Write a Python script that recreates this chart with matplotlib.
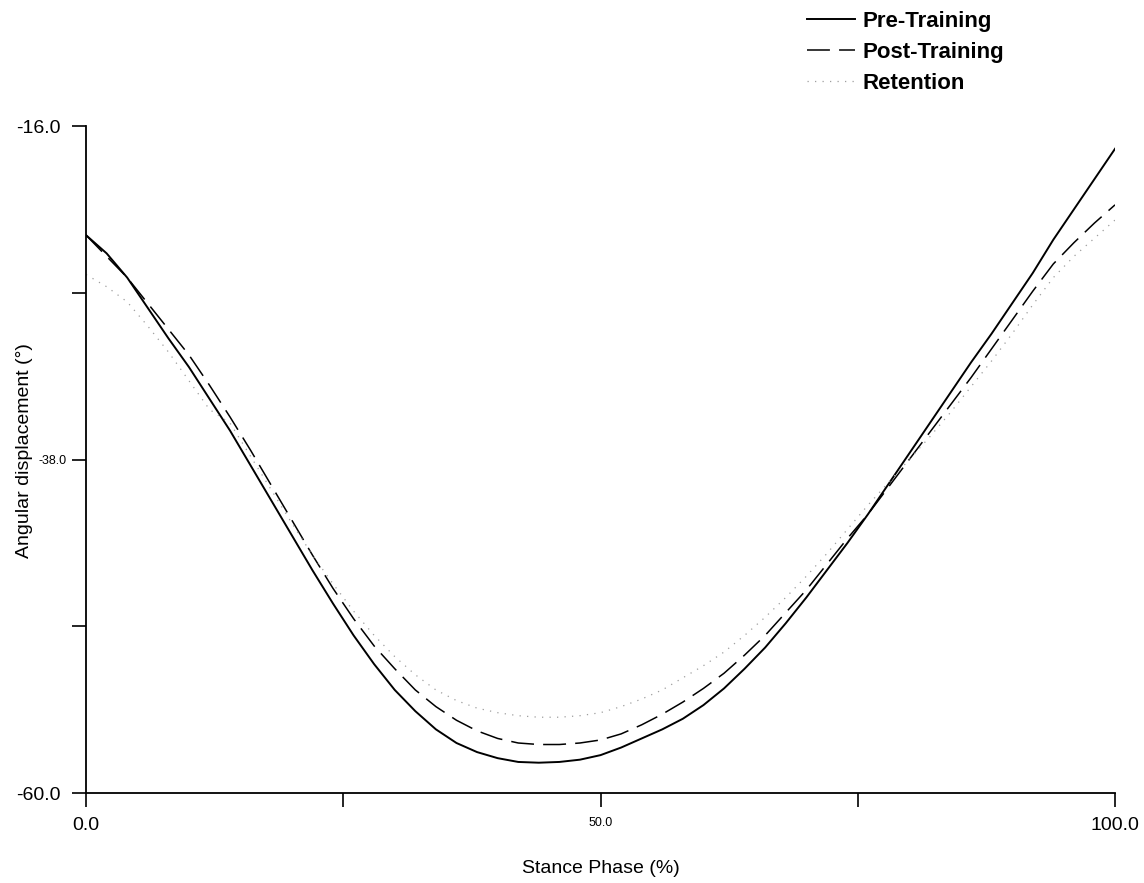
import numpy as np
import matplotlib
matplotlib.use("Agg")
from matplotlib import pyplot as plt
from matplotlib.transforms import offset_copy

plt.rcParams["font.family"] = ["Liberation Sans", "DejaVu Sans"]

# values (stance phase %, angle in degrees)
stance = [0, 2, 4, 6, 8, 10, 12, 14, 16, 18, 20, 22, 24, 26, 28, 30, 32, 34, 36, 38, 40, 42, 44, 46, 48,
          50, 52, 54, 56, 58, 60, 62, 64, 66, 68, 70, 72, 74, 76, 78, 80, 82, 84, 86, 88, 90, 92, 94, 96, 98, 100]

pre = [-23.2, -24.4, -26.0, -28.0, -30.0, -31.9, -34.0, -36.1, -38.4, -40.7, -43.0, -45.3, -47.5, -49.6, -51.5,
       -53.2, -54.6, -55.8, -56.7, -57.3, -57.7, -57.95, -58.0, -57.95, -57.8, -57.5, -57.0, -56.4, -55.8, -55.1,
       -54.2, -53.1, -51.8, -50.4, -48.8, -47.1, -45.3, -43.5, -41.6, -39.6, -37.6, -35.6, -33.6, -31.6, -29.7,
       -27.7, -25.7, -23.5, -21.5, -19.5, -17.5]

post = [-23.2, -24.6, -26.0, -27.7, -29.4, -31.1, -33.1, -35.2, -37.4, -39.7, -42.0, -44.3, -46.5, -48.5, -50.3,
        -51.8, -53.2, -54.3, -55.2, -55.9, -56.4, -56.7, -56.8, -56.8, -56.7, -56.5, -56.1, -55.5, -54.8, -54.0,
        -53.1, -52.1, -50.9, -49.6, -48.1, -46.6, -44.9, -43.2, -41.6, -39.8, -38.0, -36.2, -34.4, -32.6, -30.7,
        -28.8, -26.9, -25.1, -23.7, -22.4, -21.2]

retention = [-25.8, -26.6, -27.6, -29.2, -30.9, -32.8, -34.7, -35.6, -37.8, -40.0, -42.2, -44.3, -46.2, -48.0, -49.6,
             -51.0, -52.2, -53.2, -53.9, -54.4, -54.7, -54.9, -55.0, -55.0, -54.9, -54.7, -54.3, -53.8, -53.2, -52.4,
             -51.6, -50.7, -49.6, -48.4, -47.1, -45.7, -44.2, -42.6, -41.0, -39.5, -38.0, -36.5, -34.9, -33.2, -31.5,
             -29.7, -27.8, -26.0, -24.6, -23.4, -22.2]

y_ticks = [-16.0, -27.0, -38.0, -49.0, -60.0]
y_labels = ["-16.0", "", "-38.0", "", "-60.0"]
x_ticks = [0.0, 25.0, 50.0, 75.0, 100.0]
x_labels = ["0.0", "", "50.0", "", "100.0"]

fig = plt.figure(figsize=(11.44, 8.83), dpi=100)
ax = fig.add_axes([0.0752, 0.1019, 0.8995, 0.7554])

ax.plot(stance, pre, "-", color="black", lw=1.4, label="Pre-Training")
ax.plot(stance, post, color="black", lw=1.1, dashes=(15, 6), label="Post-Training")
ax.plot(stance, retention, color="0.62", lw=0.9, dashes=(1, 5), label="Retention")

ax.set_xlim(0, 100)
ax.set_ylim(-60, -16)
ax.spines["top"].set_visible(False)
ax.spines["right"].set_visible(False)
ax.spines["left"].set_linewidth(1.3)
ax.spines["bottom"].set_linewidth(1.3)

ax.set_yticks(y_ticks)
ax.set_yticklabels(y_labels, fontsize=14)
ax.set_xticks(x_ticks)
ax.set_xticklabels(x_labels, fontsize=14)
ax.tick_params(axis="y", length=10, width=1.2, pad=8)
ax.tick_params(axis="x", length=10, width=1.2, pad=7)

# the middle labels are printed much smaller (and closer to the axis) in the original
mid_y = ax.get_yticklabels()[2]
mid_y.set_fontsize(9)
mid_y.set_transform(offset_copy(mid_y.get_transform(), fig=fig, x=4, units="points"))
ax.get_xticklabels()[2].set_fontsize(9)

ax.set_ylabel("Angular displacement (°)", fontsize=14)
ax.yaxis.set_label_coords(-0.052, 0.514)
ax.set_xlabel("Stance Phase (%)", fontsize=14)
ax.xaxis.set_label_coords(0.5, -0.1)

leg = ax.legend(loc="upper left", bbox_to_anchor=(0.6875, 1.01), bbox_transform=fig.transFigure,
                frameon=False, handlelength=2.2, handletextpad=0.3, labelspacing=0.45,
                prop={"weight": "bold", "size": 16})

fig.savefig("out.png", dpi=100)
